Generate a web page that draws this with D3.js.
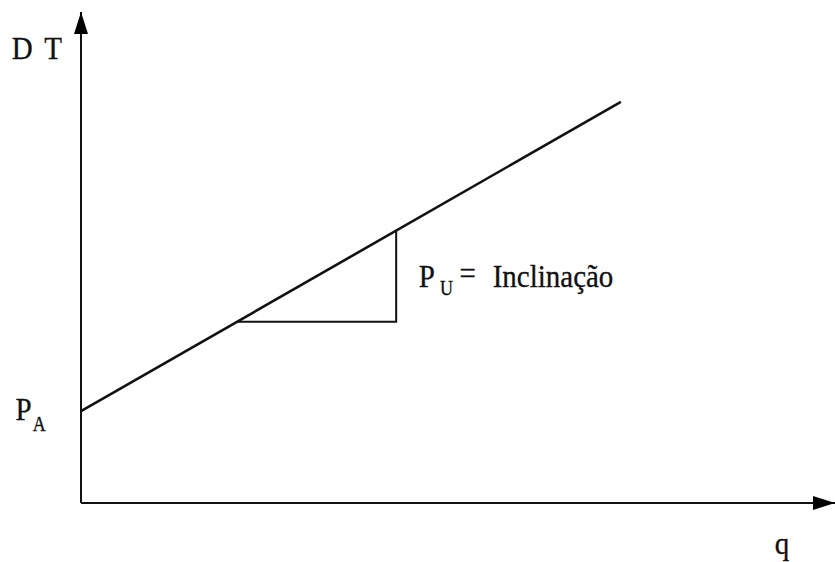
<!DOCTYPE html>
<html><head><meta charset="utf-8">
<script src="https://cdn.jsdelivr.net/npm/d3@7"></script>
<style>html,body{margin:0;padding:0;background:#fff;}svg{display:block;}</style>
</head><body>
<script>
// Data (abstract units: q on x, DT on y, each axis 0..100)
const xDomain = [0, 100];
const yDomain = [0, 100];
const costLine = [[0, 18.7], [71.6, 81.7]];           // DT = P_A + P_U * q
const slopeTriangle = [[20.7, 36.9], [41.8, 36.9], [41.8, 55.5]];
const labels = [
  {text: "D T", q: -9.2, v: 90.4, size: 29},
  {text: "P", q: -8.7, v: 16.9, size: 29},
  {text: "A", q: -6.4, v: 14.6, size: 18},
  {text: "P", q: 44.8, v: 44.0, size: 29},
  {text: "U", q: 47.6, v: 42.3, size: 18},
  {text: "=", q: 50.2, v: 44.7, size: 29},
  {text: "Inclinação", q: 54.6, v: 44.0, size: 29},
  {text: "q", q: 92.0, v: -10.4, size: 29}
];

const W = 835, H = 562;
const svg = d3.select("body").append("svg").attr("width", W).attr("height", H);
const x = d3.scaleLinear().domain(xDomain).range([81, 835]);
const y = d3.scaleLinear().domain(yDomain).range([503, 12]);

const defs = svg.append("defs");
defs.append("marker").attr("id", "arr").attr("viewBox", "0 0 22 14")
  .attr("refX", 22).attr("refY", 7).attr("markerWidth", 22).attr("markerHeight", 14)
  .attr("markerUnits", "userSpaceOnUse").attr("orient", "auto")
  .append("path").attr("d", "M0,0 L22,7 L0,14 Z").attr("fill", "#000");

const ink = "#111";
svg.append("line").attr("x1", x(0)).attr("y1", y(0)).attr("x2", x(0)).attr("y2", y(100))
  .attr("stroke", ink).attr("stroke-width", 2).attr("marker-end", "url(#arr)");
svg.append("line").attr("x1", x(0)).attr("y1", y(0)).attr("x2", x(100)).attr("y2", y(0))
  .attr("stroke", ink).attr("stroke-width", 2).attr("marker-end", "url(#arr)");

const line = d3.line().x(d => x(d[0])).y(d => y(d[1]));
svg.append("path").attr("d", line(costLine)).attr("fill", "none")
  .attr("stroke", ink).attr("stroke-width", 2.6);
svg.append("path").attr("d", line(slopeTriangle)).attr("fill", "none")
  .attr("stroke", ink).attr("stroke-width", 2);

svg.selectAll("text.lbl").data(labels).join("text").attr("class", "lbl")
  .attr("transform", d => `translate(${x(d.q)},${y(d.v)}) scale(1,1.12)`)
  .style("font-family", '"Liberation Serif"')
  .style("word-spacing", "5px")
  .attr("font-size", d => d.size).attr("fill", ink)
  .attr("stroke", ink).attr("stroke-width", 0.3)
  .text(d => d.text);
</script>
</body></html>
